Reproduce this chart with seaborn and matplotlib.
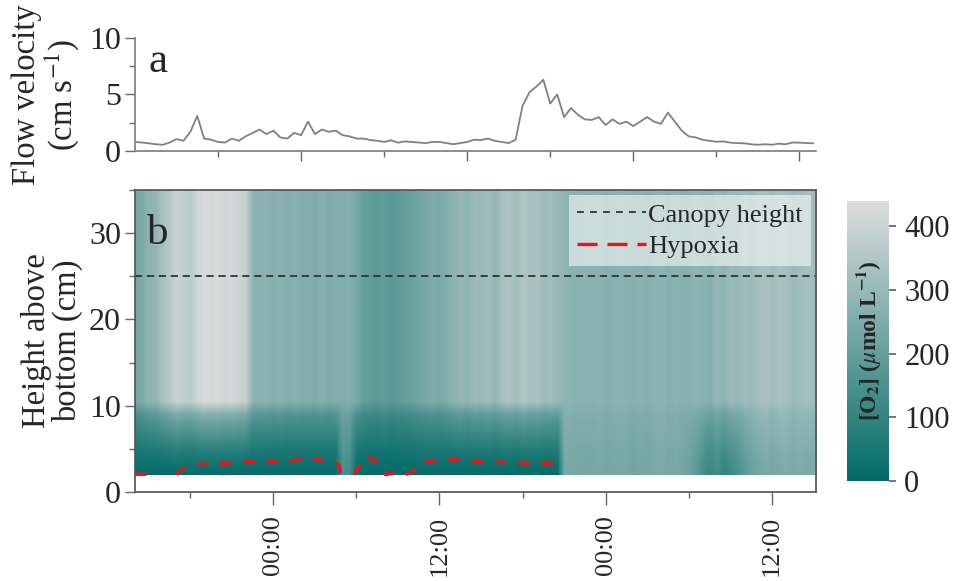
import numpy as np
import matplotlib.pyplot as plt
import seaborn as sns
from matplotlib.colors import LinearSegmentedColormap
from matplotlib.lines import Line2D
from matplotlib.ticker import FixedLocator, MultipleLocator

# hours since start of record (half-hour steps)
hours = np.arange(0, 49.5, 0.5)

flow_velocity = [
    0.8, 0.75, 0.68, 0.6, 0.55, 0.75, 1.05, 0.9, 1.7, 3.1,
    1.1, 1.0, 0.8, 0.75, 1.1, 0.9, 1.3, 1.6, 1.9, 1.5,
    1.8, 1.2, 1.1, 1.6, 1.4, 2.6, 1.5, 1.9, 1.7, 1.8,
    1.4, 1.3, 1.1, 1.1, 0.97, 0.9, 0.8, 0.95, 0.74, 0.85,
    0.8, 0.75, 0.7, 0.8, 0.8, 0.7, 0.6, 0.7, 0.8, 1.0,
    0.97, 1.1, 0.9, 0.8, 0.7, 1.0, 4.0, 5.2, 5.7, 6.3,
    4.2, 5.0, 3.0, 3.8, 3.2, 2.8, 2.75, 3.0, 2.3, 2.8,
    2.4, 2.6, 2.2, 2.6, 3.0, 2.6, 2.4, 3.4, 2.6, 1.8,
    1.3, 1.2, 1.0, 0.9, 0.82, 0.85, 0.74, 0.7, 0.68, 0.6,
    0.55, 0.6, 0.55, 0.65, 0.6, 0.75, 0.74, 0.7, 0.68,
]

# O2 above the bottom layer (umol/L)
o2_upper = [
    230, 250, 280, 290, 330, 360, 400, 380, 370, 410,
    430, 420, 430, 410, 420, 400, 390, 280, 270, 280,
    265, 275, 260, 270, 255, 260, 250, 265, 250, 260,
    255, 260, 240, 200, 190, 180, 200, 175, 190, 200,
    210, 230, 240, 250, 240, 260, 280, 300, 280, 310,
    300, 320, 290, 330, 340, 320, 350, 330, 340, 310,
    320, 300, 285, 275, 270, 275, 270, 275, 265, 270,
    275, 270, 265, 270, 265, 275, 280, 265, 275, 265,
    270, 285, 275, 265, 295, 280, 305, 295, 315, 305,
    325, 335, 315, 335, 325, 305, 315, 325, 315,
]

# O2 right above the bed (2 cm)
o2_bed = [
    10, 10, 12, 12, 10, 10, 12, 10, 10, 12,
    10, 10, 12, 10, 10, 12, 10, 10, 12, 10,
    10, 12, 10, 10, 12, 10, 10, 12, 10, 12,
    150, 130, 12, 10, 10, 12, 10, 10, 12, 10,
    10, 12, 10, 10, 12, 10, 10, 12, 10, 10,
    12, 10, 10, 12, 10, 10, 12, 10, 10, 12,
    10, 12, 240, 235, 235, 230, 235, 240, 230, 235,
    240, 235, 225, 235, 230, 240, 245, 235, 240, 230,
    215, 180, 140, 110, 130, 100, 120, 150, 180, 210,
    230, 240, 230, 240, 250, 240, 250, 240, 250,
]

# share of the upper value reached at each height
profile_z = [2, 3, 4, 5, 6, 7, 8, 9, 9.5, 10.5, 35]
profile_w = [0, 0.05, 0.12, 0.2, 0.3, 0.4, 0.5, 0.62, 0.75, 1, 1]

hypoxia_t = [0.0, 0.9, np.nan, 3.0, 3.4, 4.2, 6.0, 8.0, 9.0, 10.0, 11.0, 12.4,
             13.5, 14.3, 14.7, 14.9, np.nan, 15.8, 16.2, 16.8, 17.5, 17.9,
             18.1, 19.0, 19.5, 20.0, 20.5, 21.0, 22.0, 23.3, 25.0, 27.0,
             29.0, 30.1, 30.5]
hypoxia_z = [2.05, 2.05, np.nan, 2.0, 2.6, 3.2, 3.25, 3.5, 3.5, 3.6, 3.5, 3.9,
             3.7, 3.5, 3.2, 2.0, np.nan, 2.0, 3.0, 4.1, 3.4, 2.7,
             2.0, 2.3, 2.0, 2.3, 2.9, 3.5, 3.7, 3.8, 3.5, 3.4,
             3.3, 3.3, 2.0]

canopy_height = 25
time_ticks = [10, 22, 34, 46]
time_labels = ['00:00', '12:00', '00:00', '12:00']

sns.set_theme(style='ticks')
plt.rcParams['font.family'] = ['Liberation Serif', 'DejaVu Serif']
plt.rcParams['mathtext.fontset'] = 'stix'

fig = plt.figure(figsize=(9.6, 5.81), dpi=100)
ax1 = fig.add_axes([0.1406, 0.7401, 0.7094, 0.1945])
ax2 = fig.add_axes([0.1406, 0.1532, 0.7094, 0.5198])
cax = fig.add_axes([0.8823, 0.1721, 0.0438, 0.4819])

# panel a: flow velocity
sns.lineplot(x=hours, y=flow_velocity, ax=ax1, color='#808080', lw=1.3)
ax1.set_xlim(0, 49.2)
ax1.set_ylim(0, 10)
ax1.set_yticks([0, 5, 10])
ax1.yaxis.set_minor_locator(MultipleLocator(2.5))
ax1.xaxis.set_major_locator(FixedLocator([12, 24, 36, 48]))
ax1.xaxis.set_minor_locator(FixedLocator([6, 18, 30, 42]))
ax1.set_xticklabels([])
sns.despine(ax=ax1)
for s in ['left', 'bottom']:
    ax1.spines[s].set_color('#808080')
ax1.set_ylabel('Flow velocity\n(cm s$^{-1}$)', fontsize=23.5, linespacing=1.0,
               labelpad=6)
ax1.text(0.02, 0.7, 'a', transform=ax1.transAxes, fontsize=31)

# panel b: oxygen
z = np.arange(2, 35.01, 0.25)
w = np.interp(z, profile_z, profile_w)
up = np.array(o2_upper)
bed = np.array(o2_bed)
field = bed[None, :] + (up - bed)[None, :] * w[:, None]

cmap = LinearSegmentedColormap.from_list('o2', ['#006a66', '#dedede'])
im = ax2.imshow(field, origin='lower', aspect='auto', cmap=cmap,
                vmin=0, vmax=440, interpolation='bilinear',
                extent=[hours[0] - 0.25, hours[-1] + 0.25, 2, 35])
ax2.axhline(canopy_height, color='#333333', lw=1.3, ls=(0, (4, 2.6)))
ax2.plot(hypoxia_t, hypoxia_z, color='#e8141c', lw=2.4, ls=(0, (3.5, 3.5)))
ax2.set_xlim(0, 49.2)
ax2.set_ylim(0, 35)
ax2.set_yticks([0, 10, 20, 30])
ax2.yaxis.set_minor_locator(MultipleLocator(5))
ax2.xaxis.set_major_locator(FixedLocator(time_ticks))
ax2.xaxis.set_minor_locator(FixedLocator([4, 16, 28, 40]))
ax2.set_xticklabels(time_labels, rotation=90)
for s in ax2.spines.values():
    s.set_color('#555555')
ax2.set_ylabel('Height above\nbottom (cm)', fontsize=23.5, linespacing=1.0)
ax2.text(0.018, 0.82, 'b', transform=ax2.transAxes, fontsize=31)

handles = [Line2D([], [], color='#333333', lw=1.3, ls=(0, (3.8, 3.4))),
           Line2D([], [], color='#e8141c', lw=2.4, ls=(0, (6, 3)))]
leg = ax2.legend(handles, ['Canopy height', 'Hypoxia'], loc='upper right',
                 fontsize=19, frameon=True, framealpha=0.55, facecolor='white',
                 edgecolor='none', handlelength=2.6, handletextpad=0.1,
                 borderpad=0.3, labelspacing=0.3, borderaxespad=0.2, fancybox=False)

for ax in (ax1, ax2):
    ax.tick_params(which='major', length=7, width=1, color='#666666',
                   labelsize=23, pad=3)
    ax.tick_params(which='minor', length=4, width=1, color='#666666')
ax2.tick_params(axis='x', which='major', length=9, pad=8, labelsize=19)

cb = fig.colorbar(im, cax=cax)
cb.outline.set_visible(False)
cb.set_ticks([0, 100, 200, 300, 400])
cax.tick_params(length=5, color='#666666', labelsize=22, pad=6)
cax.text(0.5, 0.5, '[O$_\\mathbf{2}$] ($\\mu$mol L$^\\mathbf{-1}$)', transform=cax.transAxes,
         rotation=90, ha='center', va='center', fontsize=17, fontweight='bold')

fig.savefig('out.png', dpi=100)
